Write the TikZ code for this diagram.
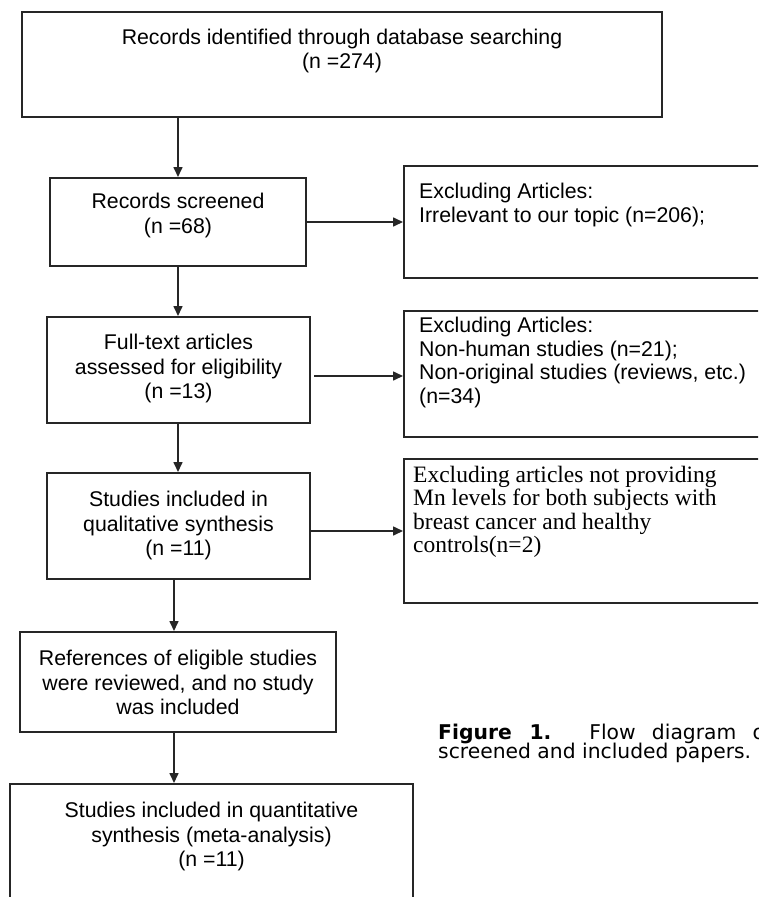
\documentclass[tikz,border=0pt]{standalone}
\usepackage{fontspec}
\setmainfont{Liberation Sans}
\newfontfamily\seriffont{Liberation Serif}
\newfontfamily\capfont{DejaVu Sans}
\usetikzlibrary{arrows.meta}
\begin{document}
\begin{tikzpicture}[x=1pt,y=-1pt,
  box/.style={draw=black!85, line width=2pt, fill=white, inner sep=0pt},
  txt/.style={font=\fontsize{21.3}{24.5}\selectfont, align=center, inner sep=0pt},
  rtxt/.style={font=\fontsize{21.3}{23.5}\selectfont, align=left, anchor=north west, inner sep=0pt},
  stxt/.style={font=\seriffont\fontsize{23.5}{23.3}\selectfont, align=left, anchor=north west, inner sep=0pt},
  captxt/.style={font=\capfont\fontsize{20.3}{20}\selectfont, anchor=base west, inner sep=0pt},
  arr/.style={draw=black!85, line width=1.6pt, -{Triangle[length=10pt,width=9pt]}}]
\useasboundingbox (0,0) rectangle (758,897);
\clip (0,0) rectangle (758,897);
\fill[white] (0,0) rectangle (758,897);

% left column
\node[box, minimum width=640pt, minimum height=105pt] (b1) at (342,64.5) {};
\node[txt] (t1) at (342,51) {Records identified through database searching\\(n =274)};
\node[box, minimum width=256pt, minimum height=88pt] (b2) at (178,222) {};
\node[txt] (t2) at (178,215.5) {Records screened\\(n =68)};
\node[box, minimum width=263pt, minimum height=106pt] (b3) at (178.5,370) {};
\node[txt] (t3) at (178.5,368.5) {Full-text articles\\assessed for eligibility\\(n =13)};
\node[box, minimum width=263pt, minimum height=106pt] (b4) at (178.5,526) {};
\node[txt] (t4) at (178.5,525.5) {Studies included in\\qualitative synthesis\\(n =11)};
\node[box, minimum width=316pt, minimum height=100pt] (b5) at (178,682) {};
\node[txt] (t5) at (178,682.5) {References of eligible studies\\were reviewed, and no study\\was included};
\node[box, minimum width=403pt, minimum height=160pt] (b6) at (211.5,864) {};
\node[txt] (t6) at (211.5,836.5) {Studies included in quantitative\\synthesis (meta-analysis)\\(n =11)};

% right column
\node[box, minimum width=416pt, minimum height=112pt] (r1) at (612,222) {};
\node[rtxt] (rt1) at (419,183) {Excluding Articles:\\Irrelevant to our topic (n=206);};
\node[box, minimum width=416pt, minimum height=126pt] (r2) at (612,374) {};
\node[rtxt] (rt2) at (419,317) {Excluding Articles:\\Non-human studies (n=21);\\Non-original studies (reviews, etc.)\\(n=34)};
\node[box, minimum width=416pt, minimum height=144pt] (r3) at (612,531) {};
\node[stxt] (rt3) at (413,466) {Excluding articles not providing\\Mn levels for both subjects with\\breast cancer and healthy\\controls(n=2)};

% connectors
\coordinate (cA) at (174,0);
\coordinate (h3) at (314,376);
\coordinate (h4) at (0,531);
\draw[arr] (b1.south -| b2.north) -- (b2.north);
\draw[arr] (b2.south) -- (b3.north -| b2.south);
\draw[arr] (b3.south -| b2.south) -- (b4.north -| b2.south);
\draw[arr] (b4.south -| cA) -- (b5.north -| cA);
\draw[arr] (b5.south -| cA) -- (b6.north -| cA);
\draw[arr] (b2.east) -- (b2.east -| r1.west);
\draw[arr] (h3) -- (h3 -| r2.west);
\draw[arr] (b4.east |- h4) -- (h4 -| r3.west);

% caption
\node[captxt] (cap1) at (438,739) {\makebox[334pt][s]{\textbf{Figure 1.} Flow diagram of}};
\node[captxt] (cap2) at (438,758) {screened and included papers.};
\end{tikzpicture}
\end{document}
